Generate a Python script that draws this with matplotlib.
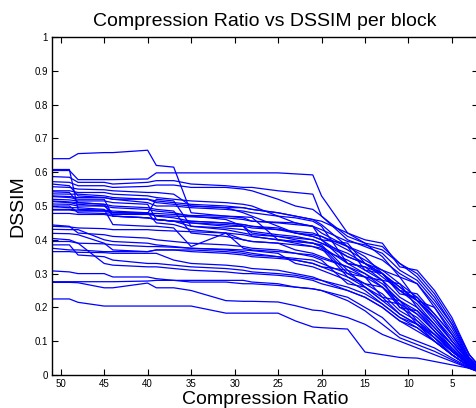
import matplotlib
matplotlib.use("Agg")
import matplotlib.pyplot as plt

plt.rcParams['font.family'] = ['Liberation Sans', 'DejaVu Sans']

# compression ratios at which every block was measured
ratios = [51, 49, 48, 45, 44, 40, 39, 37, 35, 31, 29, 28, 25, 23, 21, 20,
          17, 15, 13, 11, 9, 7, 5, 3, 2]

# DSSIM per block, one list per block (same order as ratios)
blocks = [
    [.640, .640, .655, .658, .658, .665, .620, .615, .480, .470, .465, .455, .450, .445, .440, .400, .350, .330, .300, .260, .220, .170, .100, .040, .020],
    [.605, .605, .578, .578, .578, .580, .598, .598, .598, .598, .598, .598, .598, .595, .592, .530, .420, .400, .390, .320, .310, .250, .170, .060, .030],
    [.608, .608, .490, .488, .485, .480, .470, .465, .455, .450, .445, .440, .430, .425, .420, .410, .370, .340, .310, .270, .230, .180, .120, .050, .020],
    [.587, .585, .570, .570, .565, .570, .575, .575, .565, .560, .555, .555, .545, .540, .535, .470, .410, .390, .380, .330, .300, .240, .160, .060, .030],
    [.572, .570, .560, .560, .555, .558, .562, .562, .555, .555, .550, .545, .520, .500, .490, .470, .400, .380, .360, .310, .280, .220, .150, .050, .025],
    [.565, .560, .530, .525, .520, .510, .500, .500, .495, .490, .485, .480, .470, .465, .455, .440, .330, .320, .300, .250, .240, .180, .120, .045, .020],
    [.557, .555, .550, .548, .545, .540, .540, .535, .500, .495, .495, .490, .480, .470, .460, .455, .420, .390, .350, .290, .270, .200, .120, .040, .020],
    [.542, .540, .510, .505, .470, .465, .460, .455, .450, .440, .440, .435, .430, .420, .410, .400, .390, .330, .310, .290, .220, .200, .130, .050, .020],
    [.536, .535, .535, .530, .525, .520, .515, .510, .505, .500, .495, .490, .480, .470, .460, .445, .380, .310, .300, .240, .230, .170, .110, .040, .018],
    [.528, .525, .520, .520, .470, .465, .460, .455, .440, .430, .420, .415, .410, .405, .400, .390, .360, .330, .300, .250, .220, .170, .100, .040, .020],
    [.520, .518, .515, .515, .510, .505, .460, .455, .455, .450, .445, .440, .435, .420, .410, .400, .330, .320, .280, .270, .200, .140, .090, .035, .015],
    [.513, .510, .505, .500, .480, .478, .520, .515, .440, .435, .430, .425, .415, .410, .400, .390, .350, .330, .290, .250, .210, .150, .090, .030, .015],
    [.506, .505, .500, .500, .495, .490, .485, .480, .470, .460, .440, .420, .410, .400, .390, .385, .310, .290, .280, .200, .190, .130, .080, .030, .015],
    [.498, .495, .495, .490, .445, .440, .440, .435, .380, .420, .375, .370, .365, .360, .355, .345, .320, .300, .270, .220, .190, .140, .080, .030, .015],
    [.488, .488, .485, .485, .480, .480, .450, .445, .430, .420, .415, .410, .400, .390, .380, .370, .340, .310, .280, .230, .200, .150, .090, .035, .015],
    [.478, .478, .475, .475, .470, .465, .460, .455, .450, .445, .440, .410, .400, .395, .390, .380, .300, .290, .230, .220, .160, .120, .070, .030, .015],
    [.444, .440, .420, .415, .410, .405, .400, .395, .390, .385, .380, .375, .370, .360, .350, .340, .270, .260, .220, .180, .150, .100, .060, .025, .012],
    [.431, .430, .430, .400, .395, .390, .385, .380, .375, .370, .365, .360, .350, .345, .340, .330, .300, .270, .240, .190, .160, .110, .060, .025, .012],
    [.419, .418, .415, .390, .370, .365, .370, .370, .365, .360, .355, .350, .345, .340, .330, .320, .290, .260, .230, .180, .150, .110, .060, .025, .012],
    [.404, .400, .390, .330, .325, .320, .320, .315, .310, .305, .300, .300, .295, .290, .280, .270, .250, .230, .200, .160, .140, .100, .060, .025, .012],
    [.385, .385, .355, .350, .340, .330, .330, .325, .320, .315, .310, .305, .300, .295, .285, .280, .260, .240, .210, .170, .150, .110, .070, .030, .015],
    [.375, .370, .370, .365, .365, .365, .370, .370, .370, .365, .360, .355, .350, .340, .330, .320, .310, .260, .220, .210, .150, .120, .070, .030, .015],
    [.365, .365, .363, .362, .360, .360, .360, .340, .330, .325, .320, .315, .310, .300, .290, .280, .250, .230, .200, .160, .130, .100, .060, .025, .012],
    [.308, .305, .300, .300, .290, .290, .285, .280, .275, .275, .270, .270, .265, .260, .255, .250, .230, .200, .170, .120, .100, .080, .050, .022, .012],
    [.276, .276, .276, .276, .276, .278, .280, .280, .280, .280, .280, .275, .270, .260, .255, .250, .220, .190, .150, .110, .090, .070, .045, .020, .010],
    [.274, .274, .273, .258, .258, .272, .258, .258, .250, .220, .218, .218, .216, .205, .192, .190, .170, .150, .120, .100, .080, .060, .040, .020, .010],
    [.225, .225, .215, .204, .204, .204, .204, .204, .204, .183, .183, .183, .183, .160, .142, .140, .136, .068, .060, .052, .050, .040, .030, .020, .012],
    [.530, .528, .525, .525, .520, .520, .510, .505, .500, .495, .480, .470, .440, .420, .415, .410, .380, .360, .340, .300, .270, .210, .140, .050, .025],
    [.500, .500, .480, .478, .475, .475, .472, .470, .468, .465, .460, .455, .452, .450, .440, .430, .395, .385, .370, .330, .290, .230, .150, .060, .030],
    [.515, .512, .510, .505, .500, .495, .490, .485, .420, .410, .400, .395, .390, .385, .380, .375, .290, .270, .260, .200, .170, .120, .070, .030, .015],
    [.545, .545, .540, .540, .535, .530, .525, .520, .515, .510, .505, .500, .470, .450, .440, .420, .380, .350, .300, .260, .220, .160, .100, .040, .020],
    [.490, .490, .488, .485, .480, .478, .478, .475, .472, .470, .468, .466, .400, .395, .390, .380, .330, .300, .260, .210, .180, .130, .075, .030, .015],
    [.395, .395, .390, .388, .385, .380, .380, .378, .375, .372, .370, .368, .360, .330, .320, .310, .280, .250, .210, .170, .140, .100, .060, .025, .012],
    [.440, .438, .435, .433, .430, .430, .428, .426, .424, .420, .400, .395, .390, .370, .360, .350, .320, .290, .260, .220, .180, .130, .070, .030, .015],
]

x_ticks = [5, 10, 15, 20, 25, 30, 35, 40, 45, 50]
y_ticks = [0, 0.1, 0.2, 0.3, 0.4, 0.5, 0.6, 0.7, 0.8, 0.9, 1]
y_tick_labels = ["0", "0.1", "0.2", "0.3", "0.4", "0.5", "0.6", "0.7", "0.8", "0.9", "1"]

fig = plt.figure(figsize=(4.77, 4.08), dpi=100)
ax = fig.add_axes([52 / 477, 33 / 408, 426 / 477, 338 / 408])

for dssim in blocks:
    ax.plot(ratios, dssim, color='#0000ff', linewidth=0.9)

ax.set_xlim(51, 2)
ax.set_ylim(0, 1)
ax.set_xticks(x_ticks)
ax.set_yticks(y_ticks)
ax.set_yticklabels(y_tick_labels)
ax.tick_params(direction='in', top=True, right=True, length=4, width=0.8,
               labelsize=7, pad=3)
for spine in ax.spines.values():
    spine.set_linewidth(1.0)

ax.set_title("Compression Ratio vs DSSIM per block", fontsize=14, pad=8)
ax.set_xlabel("Compression Ratio", fontsize=14, labelpad=1)
ax.set_ylabel("DSSIM", fontsize=14, labelpad=6)

fig.savefig("out.png", dpi=100)
